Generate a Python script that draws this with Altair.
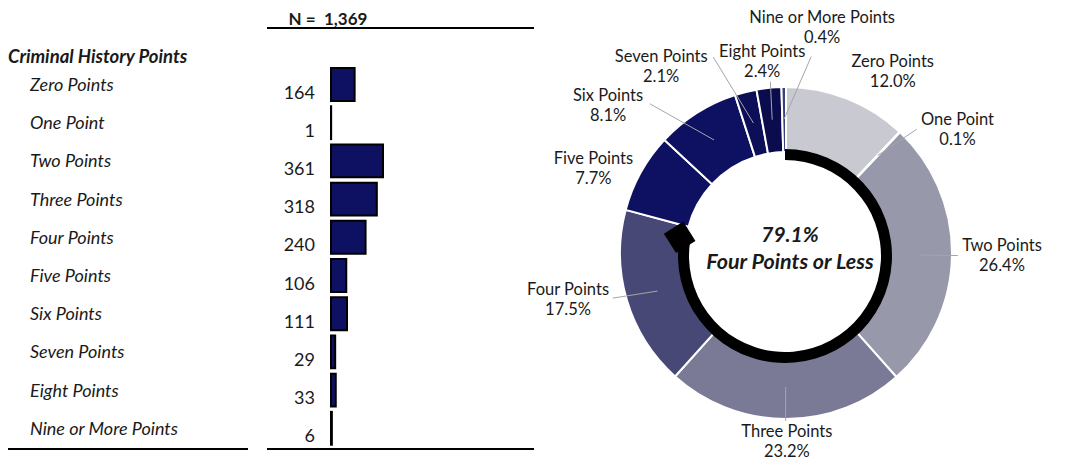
import math
import altair as alt
import pandas as pd

# ---------------- data ----------------
categories = ["Zero Points", "One Point", "Two Points", "Three Points", "Four Points",
              "Five Points", "Six Points", "Seven Points", "Eight Points", "Nine or More Points"]
donut_names = ["Zero Points", "One Point", "Two Points", "Three Points", "Four Points",
               "Five Points", "Six Points", "Seven  Points", "Eight Points", "Nine or More Points"]
counts = [164, 1, 361, 318, 240, 106, 111, 29, 33, 6]
group_label = "Four Points or Less"
group_size = 5  # first five categories

# ---------------- styles / layout ----------------
slice_colors = ["#c9c9d1", "#b8b8c4", "#9898ab", "#7a7a96", "#484877",
                "#0e1062", "#0e1062", "#0c0e58", "#0a0c4e", "#3b3f7e"]
bar_color = "#0e1062"
label_nudge_deg = [9.0, 11.1, 0.0, -0.4, 4.3, -5.5, -17.9, -19.8, -1.2, 9.9]
label_radius = [210, 211, 216, 189, 223, 210, 231, 224, 192, 228]
leader_nudge_deg = [None, 3.3, 0.0, 0.0, 1.9, None, -9.9, -6.3, 0.7, 8.1]
leader_radius = [None, 180, 172, 168, 179, None, 202, 209, 172, 198]

FONT = "Lato"
TXT = "#1a1a1a"
CX, CY = 778, 245          # donut centre (chart px)
R_IN, R_OUT = 101, 166
LEADER_INNER = 134

total = sum(counts)
fracs = [c / total for c in counts]
cum = []
s = 0.0
for f in fracs:
    cum.append(s)
    s += f
mid_deg = [(c + f / 2) * 360 for c, f in zip(cum, fracs)]

df = pd.DataFrame({
    "cat": categories,
    "name": donut_names,
    "count": counts,
    "idx": list(range(len(categories))),
})
df["lab"] = [f"{n}\n{f*100:.1f}%" for n, f in zip(donut_names, fracs)]
df["lt"] = [math.radians(m + d) for m, d in zip(mid_deg, label_nudge_deg)]
df["lr"] = label_radius
df["vlabel"] = [f"{c:,}" for c in counts]

# leader lines
rows = []
for i, (m, nd, rr) in enumerate(zip(mid_deg, leader_nudge_deg, leader_radius)):
    if nd is None:
        continue
    a1 = math.radians(m)
    a2 = math.radians(m + nd)
    rows.append({
        "x1": CX + LEADER_INNER * math.sin(a1), "y1": CY - LEADER_INNER * math.cos(a1),
        "x2": CX + rr * math.sin(a2), "y2": CY - rr * math.cos(a2),
    })
leaders = pd.DataFrame(rows)

share = sum(fracs[:group_size])
share_text = f"{math.floor(share * 1000) / 10:.1f}%"
end_deg = share * 360
BCX, BCY = 777, 248
arrow_deg = end_deg - 5
arc_end = math.radians(arrow_deg)
diamond = pd.DataFrame({
    "px": [BCX + 107 * math.sin(arc_end)],
    "py": [BCY - 107 * math.cos(arc_end)],
})

one = pd.DataFrame({"a": [0]})

# ---------------- left panel ----------------
yscale = alt.Scale(domain=categories, range=[57.4, 439.4], paddingInner=0.14, paddingOuter=0.07)
yenc = alt.Y("cat:N", scale=yscale, axis=None, sort=categories)

bars = alt.Chart(df).mark_bar(color=bar_color, stroke="black", strokeWidth=2).encode(
    x=alt.X("count:Q", scale=alt.Scale(range=[323, 375], nice=False, zero=True), axis=None),
    y=yenc,
)
cat_text = alt.Chart(df).mark_text(align="left", baseline="middle", font=FONT, fontSize=18,
                                   fontStyle="italic", color=TXT, dy=1.5).encode(
    x=alt.value(22), y=yenc, text="cat:N")
val_text = alt.Chart(df).mark_text(align="right", baseline="middle", font=FONT, fontSize=18,
                                   color=TXT, dy=9).encode(
    x=alt.value(307), y=yenc, text="vlabel:N")
title_text = alt.Chart(one).mark_text(align="left", baseline="middle", font=FONT, fontSize=18.5,
                                      fontStyle="italic", fontWeight="bold", color=TXT).encode(
    x=alt.value(0), y=alt.value(49), text=alt.value("Criminal History Points"))
header_text = alt.Chart(one).mark_text(align="center", baseline="alphabetic", font=FONT, fontSize=17,
                                       fontWeight="bold", color=TXT).encode(
    x=alt.value(320), y=alt.value(16.5), text=alt.value(f"N =\u00a0 {total:,}"))
underline = alt.Chart(one).mark_rule(color="black", strokeWidth=2).encode(
    x=alt.value(259), x2=alt.value(526), y=alt.value(20))
bottom_left = alt.Chart(one).mark_rule(color="black", strokeWidth=2).encode(
    x=alt.value(0), x2=alt.value(240), y=alt.value(441))
bottom_right = alt.Chart(one).mark_rule(color="black", strokeWidth=2).encode(
    x=alt.value(259), x2=alt.value(526), y=alt.value(441))

# ---------------- donut ----------------
arcs = alt.Chart(df).mark_arc(innerRadius=R_IN, outerRadius=R_OUT, stroke="white", strokeWidth=2).encode(
    theta=alt.Theta("count:Q", stack=True),
    order=alt.Order("idx:Q"),
    color=alt.Color("cat:N", scale=alt.Scale(domain=categories, range=slice_colors), legend=None),
    x=alt.value(CX), y=alt.value(CY),
)
black_arc = alt.Chart(one).mark_arc(theta=0, theta2=arc_end, innerRadius=96, outerRadius=107,
                                    color="black").encode(x=alt.value(BCX), y=alt.value(BCY))
arrow = alt.Chart(diamond).mark_point(shape="diamond", filled=True, size=1050, color="black",
                                      opacity=1, angle=13).encode(
    x=alt.X("px:Q", scale=None, axis=None), y=alt.Y("py:Q", scale=None, axis=None))
leader_rules = alt.Chart(leaders).mark_rule(color="#a6a6a6", strokeWidth=1).encode(
    x=alt.X("x1:Q", scale=None, axis=None), y=alt.Y("y1:Q", scale=None, axis=None),
    x2="x2:Q", y2="y2:Q")
labels = alt.Chart(df).mark_text(align="center", baseline="middle", font=FONT, fontSize=16.5,
                                 lineBreak="\n", lineHeight=20, color=TXT, dy=-10).encode(
    x=alt.value(CX), y=alt.value(CY),
    theta=alt.Theta("lt:Q", scale=None, stack=False),
    radius=alt.Radius("lr:Q", scale=None),
    text="lab:N")
center1 = alt.Chart(one).mark_text(align="center", baseline="middle", font=FONT, fontSize=21,
                                   fontStyle="italic", fontWeight="bold", color=TXT).encode(
    x=alt.value(782), y=alt.value(228), text=alt.value(share_text))
center2 = alt.Chart(one).mark_text(align="center", baseline="middle", font=FONT, fontSize=21.5,
                                   fontStyle="italic", fontWeight="bold", color=TXT).encode(
    x=alt.value(782), y=alt.value(255), text=alt.value(group_label))

chart = alt.layer(
    underline, bottom_left, bottom_right, header_text, title_text,
    bars, cat_text, val_text,
    arcs, leader_rules, black_arc, arrow, labels, center1, center2,
).resolve_scale(x="independent", y="independent", theta="independent", color="independent").properties(
    width=1060, height=452, padding=0,
    autosize=alt.AutoSizeParams(type="none"),
).configure_view(stroke=None)

chart.save("out.html", embed_options={"renderer": "svg", "actions": False})
